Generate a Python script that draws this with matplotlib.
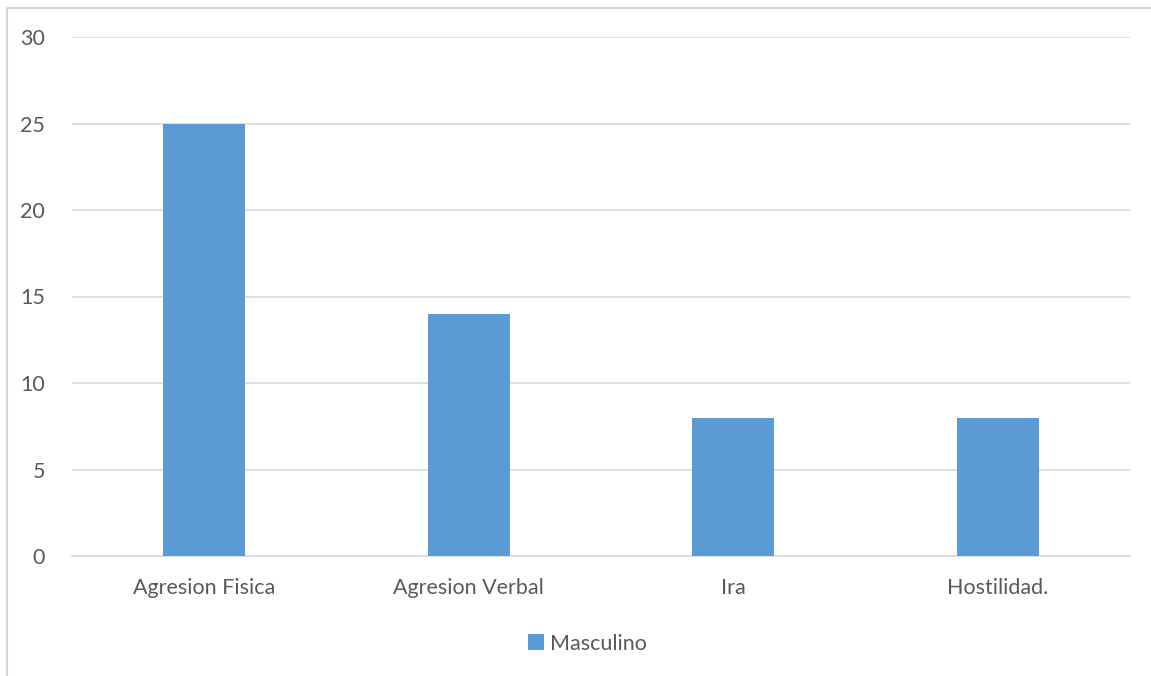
import matplotlib
matplotlib.use("Agg")
import matplotlib.pyplot as plt
from matplotlib.patches import Rectangle

# ── Data ────────────────────────────────────────────────────────────────
categories = ["Agresion Fisica", "Agresion Verbal", "Ira", "Hostilidad."]
masculino = [25, 14, 8, 8]
y_ticks = [0, 5, 10, 15, 20, 25, 30]

BAR = "#5B9BD5"
GRID = "#D9D9D9"
TEXT = "#595959"
FS = 15.5

plt.rcParams["font.family"] = ["Lato", "DejaVu Sans"]

fig = plt.figure(figsize=(11.51, 6.76), dpi=100)
ax = fig.add_axes([72 / 1151, 1 - 556 / 676, 1058 / 1151, 519 / 676])

# outer chart frame (left/top edges visible)
fig.patches.append(Rectangle((6.5 / 1151, -0.1), 1.2, 1 - 7.5 / 676 + 0.1,
                             transform=fig.transFigure, fill=False,
                             edgecolor=GRID, lw=1.5))

x = range(len(categories))
ax.bar(x, masculino, width=0.31, color=BAR, zorder=3, label="Masculino")

ax.set_xlim(-0.5, len(categories) - 0.5)
ax.set_ylim(0, 30)
ax.set_yticks(y_ticks)
ax.set_xticks(list(x))
ax.set_xticklabels(categories)
ax.yaxis.grid(True, color=GRID, lw=1.2, zorder=0)
for s in ["top", "right", "left"]:
    ax.spines[s].set_visible(False)
ax.spines["bottom"].set_color(GRID)
ax.spines["bottom"].set_linewidth(1.2)
ax.tick_params(axis="both", length=0, colors=TEXT, labelsize=FS)
ax.tick_params(axis="y", pad=19.5)
ax.tick_params(axis="x", pad=16)

ax.legend(loc="upper center", bbox_to_anchor=(0.487, -0.112), frameon=False,
          fontsize=FS, labelcolor=TEXT, handlelength=0.75, handleheight=0.75,
          handletextpad=0.25)

fig.savefig("out.png", dpi=100)
